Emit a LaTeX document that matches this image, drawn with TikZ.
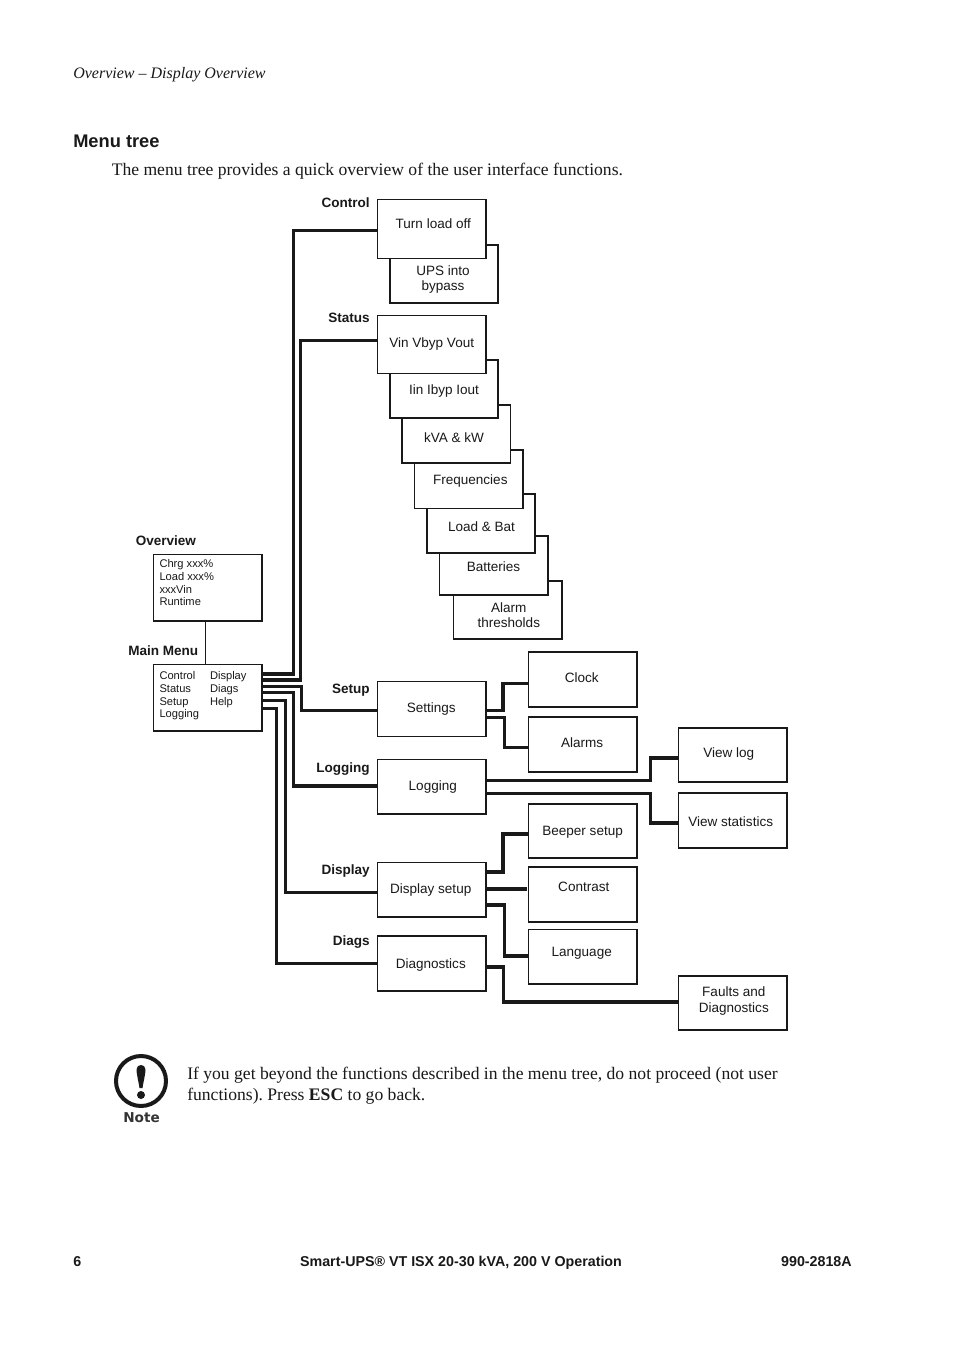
\documentclass[tikz,border=0pt]{standalone}
\usepackage{fontspec}
\setmainfont{Liberation Serif}
\newfontfamily\arialf{Liberation Sans}
\newfontfamily\notef{DejaVu Sans}
\frenchspacing
\tikzset{
  thinbox/.style={draw=black!90,fill=white,line width=1.1pt,inner sep=0pt,outer sep=0pt},
  thickbox/.style={draw=black!90,fill=white,line width=1.6pt,inner sep=0pt,outer sep=0pt},
  boxtext/.style={font=\arialf\fontsize{10.15pt}{11.2pt}\selectfont,align=center,inner sep=0pt,text=black!90,yshift=-1.2pt},
  smalltext/.style={font=\arialf\fontsize{8.35pt}{9.6pt}\selectfont,align=left,inner sep=0pt,anchor=north west,text=black!90,yshift=-1.3pt,xshift=-0.2pt},
  tag/.style={font=\arialf\bfseries\fontsize{10.15pt}{12pt}\selectfont,inner sep=0pt,text=black!90,yshift=-0.7pt},
  wire/.style={draw=black!90,line width=2.3pt,line join=miter},
  fatwire/.style={draw=black!90,line width=3pt,line join=miter},
  thinwire/.style={draw=black!90,line width=0.8pt},
  serifline/.style={font=\fontsize{13.2pt}{16pt}\selectfont,inner sep=0pt,anchor=base west,text=black!90,yshift=-0.7pt},
  foot/.style={font=\arialf\bfseries\fontsize{10.7pt}{12pt}\selectfont,inner sep=0pt,anchor=base,text=black!90},
}
\newcommand{\bx}[6]{\node[#6,minimum width={(#4-#2)*0.75pt},minimum height={(#5-#3)*0.75pt}] (#1) at ({(#2+#4)/2},{(#3+#5)/2}) {};}
\begin{document}
\begin{tikzpicture}[x=0.75pt,y=-0.75pt]
\useasboundingbox (0,0) rectangle (954,1351);
\fill[white] (0,0) rectangle (954,1351);

% page text
\node[serifline,font=\itshape\fontsize{12pt}{14pt}\selectfont] (head) at (73,78) {Overview – Display Overview};
\node[inner sep=0pt,anchor=base west,font=\arialf\bfseries\fontsize{13.7pt}{16pt}\selectfont,text=black!90,yshift=-0.7pt] (title) at (73,147) {Menu tree};
\node[serifline] (intro) at (111.5,175) {The menu tree provides a quick overview of the user interface functions.};
\node[serifline] (note1) at (187,1079) {If you get beyond the functions described in the menu tree, do not proceed (not user};
\node[serifline] (note2) at (187,1100) {functions). Press \textbf{ESC} to go back.};
\node[foot,anchor=base west] (f1) at (73,1266) {6};
\node[foot] (f2) at (461,1266) {Smart-UPS® VT ISX 20-30 kVA, 200 V Operation};
\node[foot,anchor=base east] (f3) at (852,1266) {990-2818A};

% stacked boxes (back to front)
\bx{upsb}{390}{245}{498}{303}{thinbox}
\bx{turn}{377.5}{199.5}{486}{258.5}{thinbox}
\bx{alarm}{453.5}{581}{562}{639}{thinbox}
\bx{batt}{439.5}{536}{548}{595}{thinbox}
\bx{loadb}{427}{494}{535}{553}{thickbox}
\bx{freq}{414.5}{450}{523}{508.5}{thinbox}
\bx{kva}{402}{405}{510.5}{463}{thinbox}
\bx{iin}{390}{360}{498}{418}{thickbox}
\bx{vin}{377.5}{315.5}{486}{373.5}{thinbox}

\bx{overview}{153.5}{554.5}{262}{621}{thinbox}
\bx{main}{153.5}{664.5}{262}{731}{thinbox}
\bx{settings}{377.5}{681.5}{486}{736.5}{thinbox}
\bx{logging}{377.5}{759.5}{486}{814}{thinbox}
\bx{dsetup}{377.5}{862.5}{486}{917}{thinbox}
\bx{diag}{377.5}{936}{486}{991}{thinbox}
\bx{clock}{528.5}{652}{637}{707}{thinbox}
\bx{alarms}{528.5}{717}{637}{772}{thinbox}
\bx{beeper}{528.5}{804}{637}{858}{thinbox}
\bx{contrast}{528.5}{867}{637}{922}{thinbox}
\bx{lang}{528.5}{929.5}{637}{984}{thinbox}
\bx{viewlog}{678.5}{728}{787}{782}{thinbox}
\bx{viewstat}{678.5}{793}{787}{848}{thinbox}
\bx{faults}{678.5}{976}{787}{1030}{thinbox}

% connectors
\draw[thinwire] (overview.south -| 205.5,0) -- (main.north -| 205.5,0);
\draw[wire] (main.east |- 0,674) -- (293.5,674) -- (293.5,230.5) -- (turn.west |- 0,230.5);
\draw[wire] (main.east |- 0,680) -- (300.5,680) -- (300.5,340.5) -- (vin.west |- 0,340.5);
\draw[wire] (main.east |- 0,686.7) -- (301.5,686.7) -- (301.5,710.5) -- (settings.west |- 0,710.5);
\draw[wire] (main.east |- 0,692.7) -- (293.5,692.7) -- (293.5,786) -- (logging.west |- 0,786);
\draw[wire] (main.east |- 0,700.3) -- (285.5,700.3) -- (285.5,892.5) -- (dsetup.west |- 0,892.5);
\draw[wire] (main.east |- 0,708.7) -- (276.5,708.7) -- (276.5,963.5) -- (diag.west |- 0,963.5);
\draw[wire] (settings.east |- 0,710.5) -- (503,710.5) -- (503,683.5) -- (clock.west |- 0,683.5);
\draw[wire] (settings.east |- 0,717.5) -- (504.5,717.5) -- (504.5,747.5) -- (alarms.west |- 0,747.5);
\draw[wire] (logging.east |- 0,780.5) -- (650.5,780.5) -- (650.5,758) -- (viewlog.west |- 0,758);
\draw[wire] (logging.east |- 0,793.5) -- (650.5,793.5) -- (650.5,823) -- (viewstat.west |- 0,823);
\draw[wire] (dsetup.east |- 0,872) -- (503,872) -- (503,834) -- (beeper.west |- 0,834);
\draw[fatwire] (dsetup.east |- 0,888.5) -- (526.5,888.5);
\draw[wire] (dsetup.east |- 0,905) -- (504.5,905) -- (504.5,956) -- (lang.west |- 0,956);
\draw[wire] (diag.east |- 0,967) -- (503.5,967) -- (503.5,1002) -- (faults.west |- 0,1002);

% box texts
\node[boxtext] (t1) at (433.3,222) {Turn load off};
\node[boxtext] (t2) at (443,278) {UPS into\\bypass};
\node[boxtext] (t3) at (431.7,342) {Vin Vbyp Vout};
\node[boxtext] (t4) at (444,389) {Iin Ibyp Iout};
\node[boxtext] (t5) at (454,436.5) {kVA \& kW};
\node[boxtext] (t6) at (470.3,479) {Frequencies};
\node[boxtext] (t7) at (481.5,525.5) {Load \& Bat};
\node[boxtext] (t8) at (493.5,565.5) {Batteries};
\node[boxtext] (t9) at (508.8,613.5) {Alarm\\thresholds};
\node[boxtext] (t10) at (431.3,707) {Settings};
\node[boxtext] (t11) at (432.8,785) {Logging};
\node[boxtext] (t12) at (430.7,888) {Display setup};
\node[boxtext] (t13) at (430.8,963) {Diagnostics};
\node[boxtext] (t14) at (581.8,676.5) {Clock};
\node[boxtext] (t15) at (582.2,741.5) {Alarms};
\node[boxtext] (t16) at (582.6,831) {Beeper setup};
\node[boxtext] (t17) at (583.8,885.5) {Contrast};
\node[boxtext] (t18) at (581.7,952) {Language};
\node[boxtext] (t19) at (728.8,752) {View log};
\node[boxtext] (t20) at (730.7,820) {View statistics};
\node[boxtext,font=\arialf\fontsize{10.15pt}{11.6pt}\selectfont] (t21) at (733.8,999.5) {Faults and\\Diagnostics};

\node[smalltext] (ov) at (159.5,557.5) {Chrg xxx\%\\Load xxx\%\\xxxVin\\Runtime};
\node[smalltext] (m1) at (159.5,669.5) {Control\\Status\\Setup\\Logging};
\node[smalltext] (m2) at (210,669.5) {Display\\Diags\\Help};

% labels
\node[tag,anchor=east] (l1) at (370,202) {Control};
\node[tag,anchor=east] (l2) at (370,317) {Status};
\node[tag,anchor=east] (l3) at (370,689) {Setup};
\node[tag,anchor=east] (l4) at (370,768) {Logging};
\node[tag,anchor=east] (l5) at (370,870) {Display};
\node[tag,anchor=east] (l6) at (370,941) {Diags};
\node[tag,anchor=west] (l7) at (135.5,540) {Overview};
\node[tag,anchor=west] (l8) at (128,650) {Main Menu};

% note icon
\draw[draw=black!90,line width=3pt] (141,1081) circle (25);
\fill[black!90] (136.5,1069.5) .. controls (136.5,1063.5) and (145.5,1063.5) .. (145.5,1069.5)
  .. controls (145.5,1074) and (143,1084) .. (142.5,1088) -- (139.5,1088) .. controls (139,1084) and (136.5,1074) .. (136.5,1069.5) -- cycle;
\fill[black!90] (141,1095) circle (4);
\node[inner sep=0pt,font=\notef\bfseries\fontsize{10.2pt}{12pt}\selectfont,text=black!80,yshift=-0.7pt] (notelabel) at (141.5,1117) {Note};
\end{tikzpicture}
\end{document}
